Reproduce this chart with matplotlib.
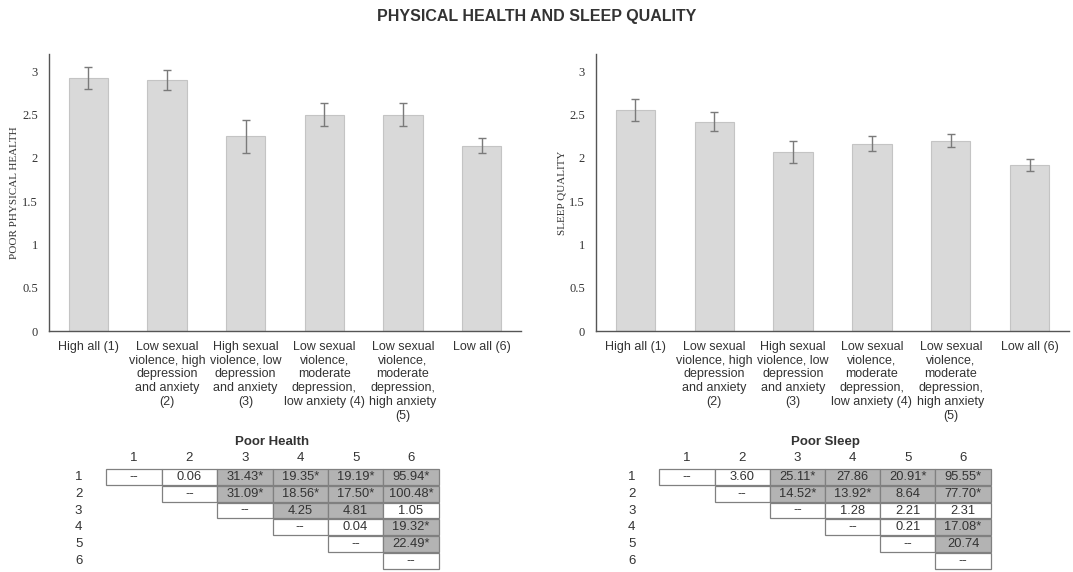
import matplotlib.pyplot as plt
from matplotlib.patches import Rectangle

# cluster groups shared by both panels
groups = [
    "High all (1)",
    "Low sexual\nviolence, high\ndepression\nand anxiety\n(2)",
    "High sexual\nviolence, low\ndepression\nand anxiety\n(3)",
    "Low sexual\nviolence,\nmoderate\ndepression,\nlow anxiety (4)",
    "Low sexual\nviolence,\nmoderate\ndepression,\nhigh anxiety\n(5)",
    "Low all (6)",
]

health_mean = [2.92, 2.90, 2.25, 2.50, 2.50, 2.14]
health_err = [0.13, 0.12, 0.19, 0.13, 0.13, 0.085]

sleep_mean = [2.55, 2.42, 2.07, 2.165, 2.20, 1.92]
sleep_err = [0.125, 0.115, 0.13, 0.09, 0.08, 0.07]

yticks = [0, 0.5, 1, 1.5, 2, 2.5, 3]
ytick_labels = ["0", "0.5", "1", "1.5", "2", "2.5", "3"]

# pairwise comparisons (upper triangle, row i starts at column i)
health_table = [
    ["--", "0.06", "31.43*", "19.35*", "19.19*", "95.94*"],
    ["--", "31.09*", "18.56*", "17.50*", "100.48*"],
    ["--", "4.25", "4.81", "1.05"],
    ["--", "0.04", "19.32*"],
    ["--", "22.49*"],
    ["--"],
]
health_shade = [
    [0, 0, 1, 1, 1, 1],
    [0, 1, 1, 1, 1],
    [0, 1, 1, 0],
    [0, 0, 1],
    [0, 1],
    [0],
]
sleep_table = [
    ["--", "3.60", "25.11*", "27.86", "20.91*", "95.55*"],
    ["--", "14.52*", "13.92*", "8.64", "77.70*"],
    ["--", "1.28", "2.21", "2.31"],
    ["--", "0.21", "17.08*"],
    ["--", "20.74"],
    ["--"],
]
sleep_shade = [
    [0, 0, 1, 1, 1, 1],
    [0, 1, 1, 1, 1],
    [0, 0, 0, 0],
    [0, 0, 1],
    [0, 1],
    [0],
]

W, H = 1073, 572
fig = plt.figure(figsize=(W / 100, H / 100), dpi=100)
text_col = "#333333"
serif = ["Liberation Serif", "DejaVu Serif"]
sans = ["Liberation Sans", "DejaVu Sans"]


def px_axes(x0, y0, x1, y1):
    # axes placed from pixel box (top-left origin)
    return fig.add_axes([x0 / W, 1 - y1 / H, (x1 - x0) / W, (y1 - y0) / H])


def bar_panel(ax, means, errs, ylabel):
    x = range(len(groups))
    ax.bar(x, means, width=0.5, color="#d9d9d9", edgecolor="#c4c4c4", linewidth=0.8)
    ax.errorbar(x, means, yerr=errs, fmt="none", ecolor="#7a7a7a", elinewidth=1,
                capsize=3, capthick=1)
    ax.set_xlim(-0.5, 5.5)
    ax.set_ylim(0, 3.2)
    ax.set_yticks(yticks)
    ax.set_yticklabels(ytick_labels, family=serif, fontsize=9, color=text_col)
    ax.set_xticks(list(x))
    ax.set_xticklabels(groups, family=sans, fontsize=9, color=text_col, linespacing=1.2,
                       va="top")
    ax.tick_params(length=0, pad=8)
    ax.tick_params(axis="x", pad=7)
    for s in ["top", "right"]:
        ax.spines[s].set_visible(False)
    for s in ["left", "bottom"]:
        ax.spines[s].set_color("#555555")
        ax.spines[s].set_linewidth(1)
    ax.set_ylabel(ylabel, family=serif, fontsize=8, color=text_col, labelpad=2)


def table_panel(ax, title, values, shade):
    ax.set_xlim(-0.8, 6.7)
    ax.set_ylim(6.6, -1.6)
    ax.axis("off")
    ax.text(3.5, -1.08, title, ha="center", va="center", family=sans, fontsize=9.5,
            fontweight="bold", color=text_col)
    for c in range(1, 7):
        ax.text(c, -0.13, str(c), ha="center", va="center", family=sans, fontsize=9.5,
                color=text_col)
    for r in range(1, 7):
        ax.text(0, r, str(r), ha="center", va="center", family=sans, fontsize=9.5,
                color=text_col)
        for k, (val, sh) in enumerate(zip(values[r - 1], shade[r - 1])):
            c = r + k
            ax.add_patch(Rectangle((c - 0.5, r - 0.47), 1, 0.94,
                                   facecolor="#b3b3b3" if sh else "white",
                                   edgecolor="#808080", linewidth=0.9))
            ax.text(c, r, val, ha="center", va="center", family=sans, fontsize=9.3,
                    color=text_col)


ax1 = px_axes(49, 54, 521, 331)
bar_panel(ax1, health_mean, health_err, "POOR PHYSICAL HEALTH")
ax2 = px_axes(596, 54, 1069, 331)
bar_panel(ax2, sleep_mean, sleep_err, "SLEEP QUALITY")

t1 = px_axes(134 - 1.8 * 55.4, 433.3, 134 + 5.7 * 55.4, 571)
table_panel(t1, "Poor Health", health_table, health_shade)
t2 = px_axes(687 - 1.8 * 55.2, 433.3, 687 + 5.7 * 55.2, 571)
table_panel(t2, "Poor Sleep", sleep_table, sleep_shade)

fig.text(0.5, 1 - 17 / H, "PHYSICAL HEALTH AND SLEEP QUALITY", ha="center", va="center",
         family=sans, fontsize=11.5, fontweight="bold", color=text_col)

fig.savefig("out.png", dpi=100, facecolor="white")
